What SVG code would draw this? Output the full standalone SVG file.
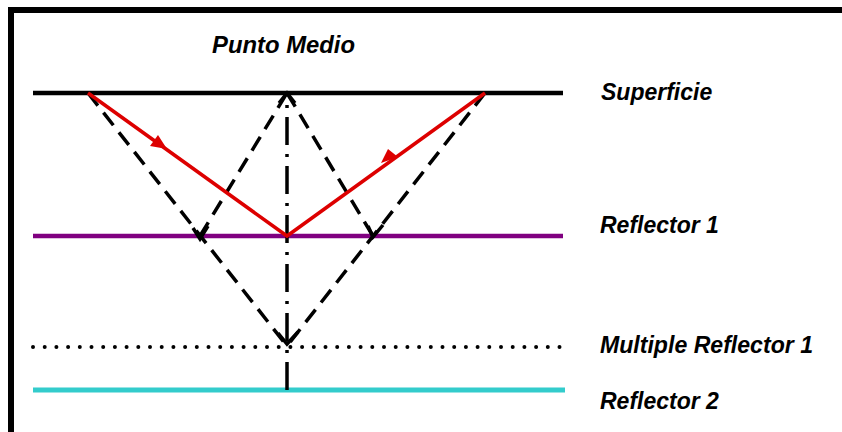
<svg xmlns="http://www.w3.org/2000/svg" width="842" height="432" viewBox="0 0 842 432">
<style>
.lbl{font-family:"Liberation Sans",Arial,sans-serif;font-weight:bold;font-style:italic;font-size:23px;fill:#000}
.dash{stroke:#000;stroke-width:3.5;stroke-dasharray:16 9;fill:none}
.head{stroke:#000;stroke-width:3.5;fill:none}
.ray{stroke:#dd0000;stroke-width:3.5;fill:none}
</style>
<rect x="0" y="0" width="842" height="432" fill="#fff"/>
<g id="frame">
<rect x="8" y="7" width="834" height="6" fill="#000"/>
<rect x="8" y="7" width="6" height="425" fill="#000"/>
</g>
<g id="superficie">
<line x1="33" y1="93" x2="563" y2="93" stroke="#000" stroke-width="4.5"/>
<text class="lbl" x="601" y="100">Superficie</text>
</g>
<g id="reflector1">
<line x1="33" y1="236" x2="563" y2="236" stroke="#800080" stroke-width="4.5"/>
<text class="lbl" x="600" y="233">Reflector 1</text>
</g>
<g id="multiple">
<line x1="33" y1="347" x2="563" y2="347" stroke="#000" stroke-width="4" stroke-dasharray="0 11.7" stroke-linecap="round"/>
<text class="lbl" x="600" y="353" textLength="213" lengthAdjust="spacingAndGlyphs">Multiple Reflector 1</text>
</g>
<g id="reflector2">
<line x1="33" y1="390" x2="565" y2="390" stroke="#33cccc" stroke-width="5"/>
<text class="lbl" x="600" y="409">Reflector 2</text>
</g>
<g id="punto-medio">
<text class="lbl" x="212" y="53" textLength="143" lengthAdjust="spacingAndGlyphs">Punto Medio</text>
</g>
<g id="connectors">
<line x1="287" y1="390" x2="287" y2="95" stroke="#000" stroke-width="3.5" stroke-dasharray="28 9 3 9"/>
<polyline class="head" points="279,103 287,93 295,103"/>
<line class="dash" x1="88" y1="93" x2="287" y2="346"/>
<line class="dash" x1="485" y1="93" x2="287" y2="346"/>
<line class="dash" x1="200" y1="236" x2="287" y2="93"/>
<line class="dash" x1="287" y1="93" x2="373" y2="236"/>
<polyline class="head" points="278,333 287,344 298,332"/>
<polyline class="head" points="193,228 200,239 208,226"/>
<polyline class="head" points="368,226 373,237 383,225"/>
<polyline class="ray" points="88,93 287,236 485,93"/>
<polygon points="167,149 150,146 158,135" fill="#dd0000"/>
<polygon points="398,157 381,163 388,149" fill="#dd0000"/>
</g>
</svg>
